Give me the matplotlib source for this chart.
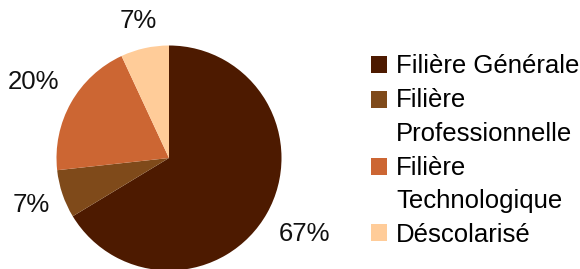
import numpy as np
import matplotlib.pyplot as plt
from matplotlib.patches import Rectangle
from matplotlib.legend_handler import HandlerPatch

plt.rcParams['font.family'] = ['Liberation Sans', 'DejaVu Sans']

categories = ['Filière Générale', 'Filière\nProfessionnelle', 'Filière\nTechnologique', 'Déscolarisé']
shares = [67, 7, 20, 7]
pct_labels = ['67%', '7%', '20%', '7%']
colors = ['#4d1a00', '#7f4a1a', '#cc6633', '#ffcc99']

fs = 18.5


class TopSquare(HandlerPatch):
    # put the square next to the first line of a multi-line label
    def __init__(self, nlines):
        super().__init__()
        self.nlines = nlines

    def create_artists(self, legend, orig_handle, xdescent, ydescent, width, height, fontsize, trans):
        shift = 0.7 * fontsize * (self.nlines - 1)
        p = Rectangle((-xdescent, -ydescent + shift), width, height,
                      facecolor=orig_handle.get_facecolor(), edgecolor='none', transform=trans)
        return [p]


fig = plt.figure(figsize=(5.8, 2.69), dpi=100)
ax = fig.add_axes([56.5/580, -1.5/269, 225/580, 225/269])

wedges, texts = ax.pie(shares, labels=pct_labels, colors=colors, startangle=90,
                       counterclock=False, labeldistance=1.2, radius=1,
                       textprops={'fontsize': fs, 'color': '#111111'})
ax.set_xlim(-1, 1)
ax.set_ylim(-1, 1)
ax.set_aspect('equal')
ax.axis('off')

# labels sit just outside the pie, their box touching a ring a bit larger than it
fig.canvas.draw()
r_px = ax.transData.transform((1, 0))[0] - ax.transData.transform((0, 0))[0]
hh = 0.575 * fs * fig.dpi / 72 / r_px
for w, t in zip(wedges, texts):
    ang = np.deg2rad((w.theta1 + w.theta2) / 2)
    c, s = np.cos(ang), np.sin(ang)
    hw = t.get_window_extent().width / 2 / r_px
    k = min(hw / max(abs(c), 1e-9), hh / max(abs(s), 1e-9))
    t.set_ha('center')
    t.set_va('center')
    t.set_position(((1.115 + k) * c, (1.115 + k) * s))

hmap = {w: TopSquare(c.count('\n') + 1) for w, c in zip(wedges, categories)}
leg = fig.legend(wedges, categories, loc='center left', bbox_to_anchor=(371/580, 0.44),
                 frameon=False, fontsize=fs, handlelength=0.62, handleheight=0.62,
                 handletextpad=0.35, labelspacing=0.38, borderpad=0, borderaxespad=0,
                 handler_map=hmap)
for t in leg.get_texts():
    t.set_linespacing(1.5)

fig.savefig('out.png', dpi=100)
